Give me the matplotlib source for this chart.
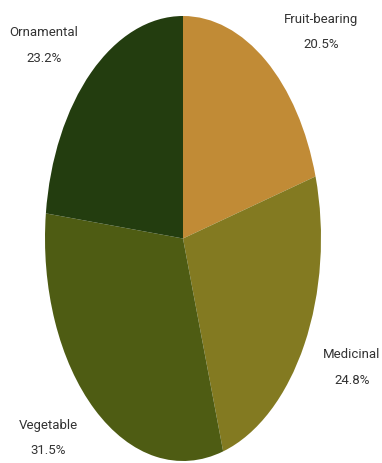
import matplotlib
matplotlib.use("Agg")
import matplotlib.pyplot as plt

categories = ["Fruit-bearing", "Medicinal", "Vegetable", "Ornamental"]
shares = [20.5, 24.8, 31.5, 23.2]
colors = ["#C18B36", "#837A21", "#4E5C13", "#233D0F"]

# label anchor points in figure pixels (x centre, y of the name line from top)
label_pos = {
    "Fruit-bearing": (321, 19),
    "Medicinal": (352, 355),
    "Vegetable": (48, 426),
    "Ornamental": (44, 33),
}

W, H = 382, 464
fig = plt.figure(figsize=(W / 100, H / 100), dpi=100)
fig.patch.set_facecolor("white")

# stretched pie: the axes box is taller than wide and aspect is left free
left, right, top, bottom = 45, 321, 17, 462
ax = fig.add_axes([left / W, 1 - bottom / H, (right - left) / W, (bottom - top) / H])
ax.pie(shares, colors=colors, startangle=90, counterclock=False,
       wedgeprops=dict(linewidth=0))
ax.set_aspect("auto")
ax.set_xlim(-1, 1)
ax.set_ylim(-1, 1)
ax.axis("off")

for name, val in zip(categories, shares):
    x, y = label_pos[name]
    fig.text(x / W, 1 - y / H, name, ha="center", va="center",
             fontsize=9.5, family="Roboto", color="#333333")
    fig.text(x / W, 1 - (y + 25) / H, f"{val:.1f}%", ha="center", va="center",
             fontsize=9.5, family="Roboto", color="#333333")

fig.savefig("out.png", dpi=100, facecolor="white")
